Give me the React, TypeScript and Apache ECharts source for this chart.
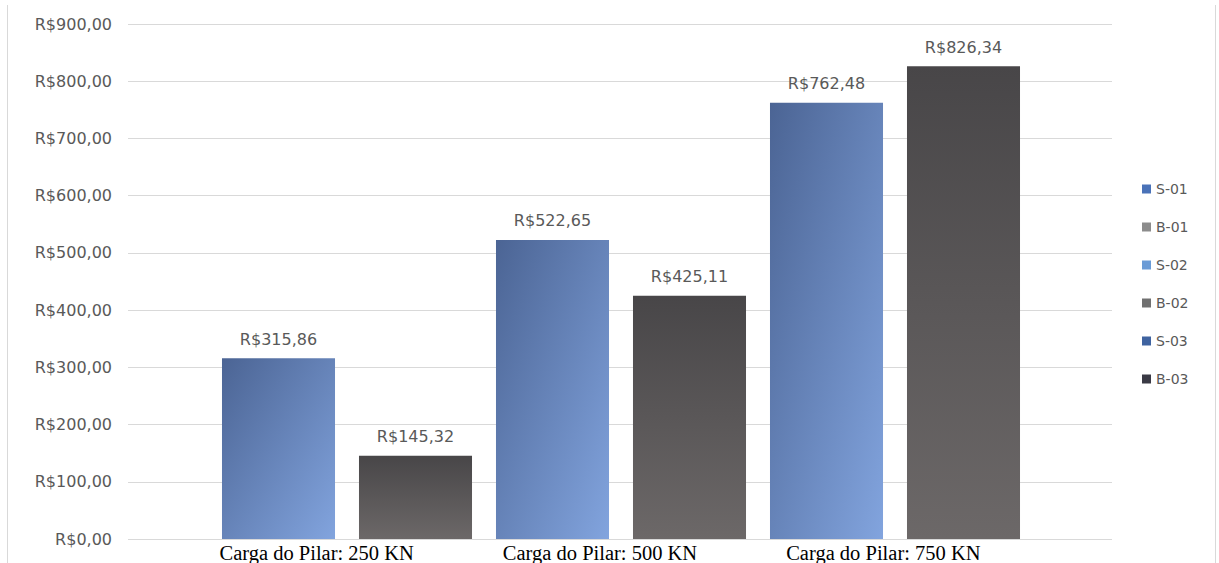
import React, { useEffect, useRef } from "react";
import * as echarts from "echarts";

const seriesNames = ["S-01", "B-01", "S-02", "B-02", "S-03", "B-03"];
const seriesValues = [315.86, 145.32, 522.65, 425.11, 762.48, 826.34];
const loadLabels = ["Carga do Pilar: 250 KN", "Carga do Pilar: 500 KN", "Carga do Pilar: 750 KN"];
const legendColors = ["#4a72b8", "#8c8c8c", "#6a9bd6", "#707070", "#3f63a0", "#3a3a45"];
const yTicks = { min: 0, max: 900, interval: 100 };

const money = (v: number) => "R$" + v.toFixed(2).replace(".", ",");

export default function App() {
  const ref = useRef<HTMLDivElement>(null);
  useEffect(() => {
    if (!ref.current) return;
    const chart = echarts.init(ref.current, undefined, { renderer: "svg" });
    const blueGrad = new echarts.graphic.LinearGradient(0, 0, 1, 1, [
      { offset: 0, color: "#4b6494" },
      { offset: 1, color: "#82a4de" },
    ]);
    const grayGrad = new echarts.graphic.LinearGradient(0, 0, 0, 1, [
      { offset: 0, color: "#484648" },
      { offset: 1, color: "#6c6868" },
    ]);
    const font = "DejaVu Sans";
    const series = seriesNames.map((name, i) => ({
      name,
      type: "bar",
      xAxisIndex: 1,
      yAxisIndex: 1,
      stack: "all",
      barCategoryGap: "17.5%",
      data: seriesNames.map((_, j) => (j === i ? seriesValues[i] : "-")),
      itemStyle: { color: name.startsWith("S") ? blueGrad : grayGrad },
      label: {
        show: true,
        position: "top",
        distance: 11,
        color: "#595959",
        fontFamily: font,
        fontSize: 16,
        formatter: (p: any) => money(p.value),
      },
    }));
    chart.setOption({
      animation: false,
      backgroundColor: "#ffffff",
      grid: [
        { left: 128, right: 107, top: 24, bottom: 24 },
        { left: 210, width: 822, top: 24, bottom: 24 },
        { left: 175, width: 850, top: 24, bottom: 24 },
      ],
      legend: {
        orient: "vertical",
        left: 1137,
        top: 177,
        itemGap: 24,
        itemWidth: 9,
        itemHeight: 9,
        icon: "rect",
        textStyle: { color: "#595959", fontFamily: font, fontSize: 14 },
        data: seriesNames.map((n, i) => ({ name: n, itemStyle: { color: legendColors[i] } })),
      },
      xAxis: [
        { gridIndex: 0, type: "value", min: 0, max: 1, show: false },
        {
          gridIndex: 1,
          type: "category",
          data: seriesNames,
          axisLine: { show: false },
          axisTick: { show: false },
          axisLabel: { show: false },
        },
        {
          gridIndex: 2,
          type: "category",
          data: loadLabels,
          axisLine: { show: false },
          axisTick: { show: false },
          axisLabel: {
            show: true,
            margin: 4,
            color: "#000000",
            fontFamily: "Liberation Serif",
            fontSize: 20.5,
            interval: 0,
          },
        },
      ],
      yAxis: [
        {
          gridIndex: 0,
          type: "value",
          min: yTicks.min,
          max: yTicks.max,
          interval: yTicks.interval,
          axisLine: { show: false },
          axisTick: { show: false },
          splitLine: { lineStyle: { color: "#d9d9d9", width: 1 } },
          axisLabel: {
            margin: 16,
            color: "#595959",
            fontFamily: font,
            fontSize: 16,
            formatter: (v: number) => money(v),
          },
        },
        { gridIndex: 1, type: "value", min: yTicks.min, max: yTicks.max, show: false },
        { gridIndex: 2, type: "value", min: 0, max: 1, show: false },
      ],
      graphic: [
        { type: "line", shape: { x1: 7.5, y1: 5, x2: 7.5, y2: 563 }, style: { stroke: "#d9d9d9", lineWidth: 1 } },
        { type: "line", shape: { x1: 1215.5, y1: 5, x2: 1215.5, y2: 563 }, style: { stroke: "#d9d9d9", lineWidth: 1 } },
      ],
      series,
    });
    return () => chart.dispose();
  }, []);
  return (
    <div
      ref={ref}
      style={{ position: "fixed", left: 0, top: 0, width: 1219, height: 563 }}
    />
  );
}
